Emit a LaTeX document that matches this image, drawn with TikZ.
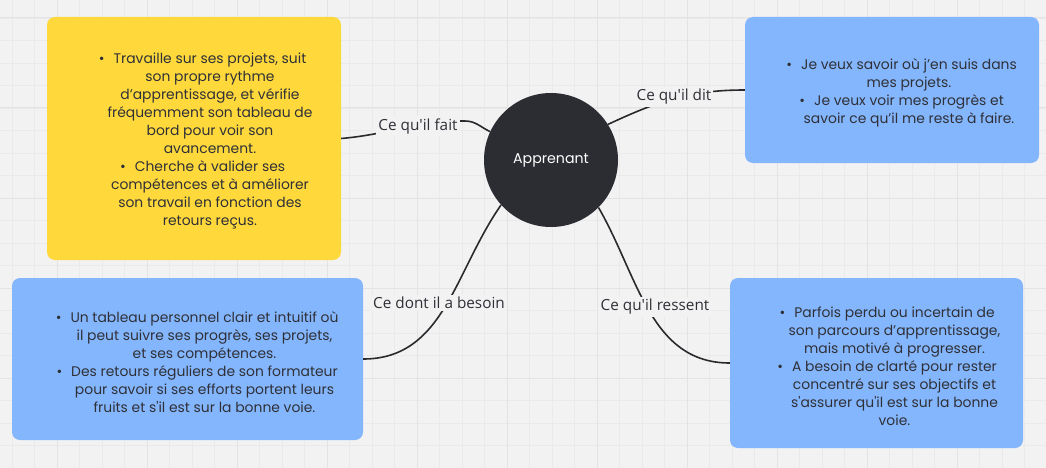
\documentclass[tikz,border=0pt]{standalone}
\usepackage{fontspec}
\usepackage{xcolor}
\newfontfamily\cardfont{Poppins}
\newfontfamily\tagfont{Open Sans}
\usetikzlibrary{positioning}
\definecolor{bgGray}{HTML}{F2F2F2}
\definecolor{gridMinor}{HTML}{EAEAEA}
\definecolor{gridMajor}{HTML}{E3E3E3}
\definecolor{noteYellow}{HTML}{FFD93B}
\definecolor{noteBlue}{HTML}{84B6FD}
\definecolor{hubDark}{HTML}{2C2D33}
\definecolor{inkGray}{HTML}{2F3037}
\definecolor{wireDark}{HTML}{2A2A2E}
\newcommand{\bul}{\llap{•\hspace{9pt}}}
\tikzset{
    card/.style 2 args={minimum width=#1, minimum height=#2, rounded corners=8pt, inner sep=0pt},
    cardtext/.style={align=center, text=inkGray, yshift=-3pt, font=\cardfont\fontsize{13.9}{18}\selectfont},
    hub/.style={circle, fill=hubDark, minimum size=134pt, inner sep=0pt, text=white, font=\cardfont\fontsize{14.2}{16}\selectfont},
    wire/.style={draw=wireDark, line width=1.6pt},
    tag/.style={fill=bgGray, text=inkGray, inner sep=2pt, font=\tagfont\fontsize{15.3}{17}\selectfont}
}

\begin{document}
\begin{tikzpicture}[x=1pt,y=1pt]
    \useasboundingbox (0,0) rectangle (1046,-468);
    \fill[bgGray] (0,0) rectangle (1046,-468);
    \foreach \gx in {12,34.5,...,1046} \draw[gridMinor, line width=0.8pt] (\gx,0) -- (\gx,-468);
    \foreach \gy in {18,40.5,...,468} \draw[gridMinor, line width=0.8pt] (0,-\gy) -- (1046,-\gy);
    \foreach \gx in {57,147,...,1046} \draw[gridMajor, line width=1pt] (\gx,0) -- (\gx,-468);
    \foreach \gy in {18,108,...,468} \draw[gridMajor, line width=1pt] (0,-\gy) -- (1046,-\gy);

    \node [hub] (apprenant) at (551,-160) {Apprenant};

    %%%%%% cards
    \node [card={294pt}{243pt}, fill=noteYellow] (fait) at (194,-138.5) {};
    \node [cardtext] (faitText) at ([xshift=16pt]fait.center) {\bul Travaille sur ses projets, suit\\ son propre rythme\\ d’apprentissage, et vérifie\\ fréquemment son tableau de\\ bord pour voir son\\ avancement.\\ \bul Cherche à valider ses\\ compétences et à améliorer\\ son travail en fonction des\\ retours reçus.};

    \node [card={294pt}{146pt}, fill=noteBlue] (dit) at (892,-90) {};
    \node [cardtext] (ditText) at ([xshift=17pt]dit.center) {\bul Je veux savoir où j’en suis dans\\ mes projets.\\ \bul Je veux voir mes progrès et\\ savoir ce qu’il me reste à faire.};

    \node [card={351pt}{162pt}, fill=noteBlue] (besoin) at (187.5,-359) {};
    \node [cardtext] (besoinText) at ([xshift=17pt]besoin.center) {\bul Un tableau personnel clair et intuitif où\\ il peut suivre ses progrès, ses projets,\\ et ses compétences.\\ \bul Des retours réguliers de son formateur\\ pour savoir si ses efforts portent leurs\\ fruits et s'il est sur la bonne voie.};

    \node [card={293pt}{170pt}, fill=noteBlue] (ressent) at (876.5,-363) {};
    \node [cardtext] (ressentText) at ([xshift=18pt]ressent.center) {\bul Parfois perdu ou incertain de\\ son parcours d’apprentissage,\\ mais motivé à progresser.\\ \bul A besoin de clarté pour rester\\ concentré sur ses objectifs et\\ s'assurer qu'il est sur la bonne\\ voie.};

    %%%%%% connectors
    \coordinate (faitBend) at (465,-121);
    \draw [wire] (fait.east) to [out=5, in=180] (faitBend) to [out=0, in=155] (apprenant.155);
    \draw [wire] (apprenant.32) to [out=25, in=180] (dit.west);
    \draw [wire] (apprenant.222) to [out=235, in=0] (besoin.east);
    \draw [wire] (apprenant.-45) to [out=-60, in=180] (ressent.west);

    \node [tag] (faitTag) at (418,-126) {Ce qu'il fait};
    \node [tag] (ditTag) at (674,-97) {Ce qu'il dit};
    \node [tag] (besoinTag) at (439,-303) {Ce dont il a besoin};
    \node [tag] (ressentTag) at (655,-307) {Ce qu'il ressent};
\end{tikzpicture}
\end{document}
